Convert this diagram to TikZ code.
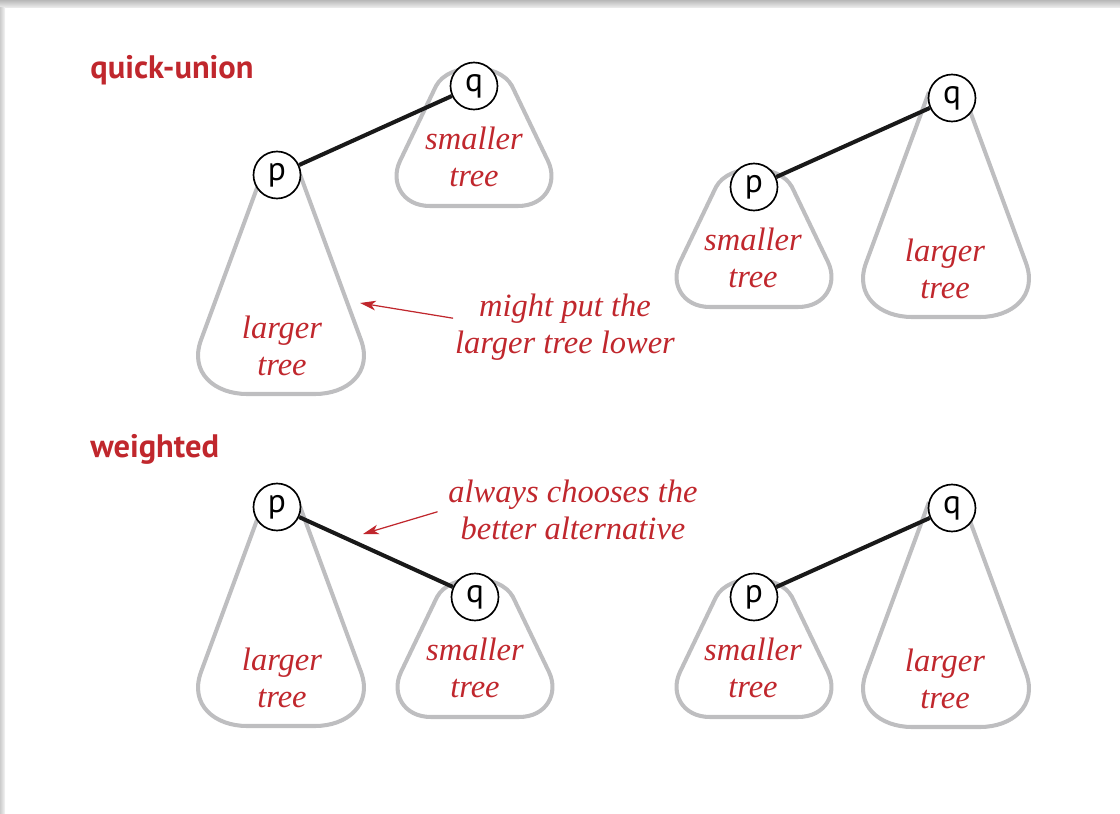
\documentclass[tikz,border=0pt]{standalone}
\usepackage{fontspec}
\setsansfont{PT Sans}
\newfontfamily\labelfont{Liberation Serif}
\usepackage{tikz}
\usetikzlibrary{arrows.meta}
\definecolor{bookred}{RGB}{192,39,45}
\definecolor{treegray}{RGB}{190,190,192}
\tikzstyle{key} = [circle, draw, fill=white, line width=0.95pt, minimum size=0.94cm, inner sep=0pt, font=\sffamily\fontsize{19}{19}\selectfont]
\tikzstyle{link} = [line width=2.3pt, black!90]
\tikzstyle{treeshape} = [line width=2.3pt, treegray, line join=round]
\tikzstyle{treelabel} = [bookred, align=center, inner sep=0pt, font=\labelfont\itshape\fontsize{18.5}{21}\selectfont]
\tikzstyle{heading} = [bookred, anchor=base west, inner sep=0pt, font=\sffamily\bfseries\fontsize{18.5}{18.5}\selectfont]
\tikzstyle{pointer} = [bookred, line width=0.7pt, -{Stealth[length=9pt,width=5.5pt,inset=2.5pt]}]
% tree outlines, #1,#2 = top of the tree
\newcommand{\smallertree}[2]{%
  \draw[treeshape, shift={(#1,#2)}] (-38,0) -- (-74,75) .. controls (-84,96) and (-72,120) .. (-44,120) -- (44,120)
    .. controls (72,120) and (84,96) .. (74,75) -- (38,0) .. controls (25,-24) and (-25,-24) .. cycle;}
\newcommand{\largertree}[2]{%
  \draw[treeshape, shift={(#1,#2)}] (-17,-6) -- (-80,165) .. controls (-92,198) and (-66,219) .. (-34,219) -- (34,219)
    .. controls (66,219) and (92,198) .. (80,165) -- (17,-6);}

\begin{document}
\begin{tikzpicture}[x=0.02cm, y=-0.02cm]
	\useasboundingbox (0,0) rectangle (1120,814);
	\shade[top color=black!28, bottom color=black!6] (0,0) rectangle (1120,8);
	\shade[left color=black!20, right color=black!4] (0,8) rectangle (5,814);

	% quick-union
	\node[heading] (qu) at (90,79) {quick-union};
	\largertree{281}{175}
	\smallertree{474}{86}
	\node[key] (p1) at (277,175) {p};
	\node[key] (q1) at (474,86) {q};
	\draw[link] (p1) -- (q1);
	\node[treelabel] (big1) at (282,345.5) {larger\\tree};
	\node[treelabel] (small1) at (474,156.5) {smaller\\tree};

	\smallertree{754}{187}
	\largertree{946}{98}
	\node[key] (p2) at (754,187) {p};
	\node[key] (q2) at (952,98) {q};
	\draw[link] (p2) -- (q2);
	\node[treelabel] (small2) at (753,257.5) {smaller\\tree};
	\node[treelabel] (big2) at (945,268.5) {larger\\tree};

	\node[treelabel] (note1) at (565,327) {might put the\\larger tree lower};
	\coordinate (tip1) at (360,303);
	\draw[pointer] ([xshift=-1pt,yshift=5pt]note1.west) -- (tip1);

	% weighted
	\node[heading] (wt) at (90,458) {weighted};
	\largertree{281}{507}
	\smallertree{475}{597}
	\node[key] (p3) at (277,507) {p};
	\node[key] (q3) at (475,597) {q};
	\draw[link] (p3) -- (q3);
	\node[treelabel] (big3) at (282,677.5) {larger\\tree};
	\node[treelabel] (small3) at (475,667.5) {smaller\\tree};

	\smallertree{754}{597}
	\largertree{946}{508}
	\node[key] (p4) at (754,597) {p};
	\node[key] (q4) at (952,508) {q};
	\draw[link] (p4) -- (q4);
	\node[treelabel] (small4) at (753,667.5) {smaller\\tree};
	\node[treelabel] (big4) at (945,678.5) {larger\\tree};

	\node[treelabel] (note2) at (573,510) {always chooses the\\better alternative};
	\coordinate (tip2) at (363,534);
	\draw[pointer] ([xshift=-6pt,yshift=-1pt]note2.west) -- (tip2);
\end{tikzpicture}
\end{document}
